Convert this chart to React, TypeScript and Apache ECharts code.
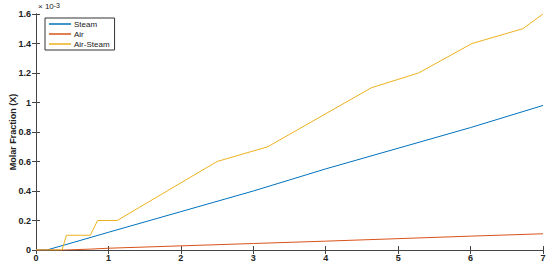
import React, { useEffect, useRef } from "react";
import * as echarts from "echarts";

// values in units of 10^-3
const steamX = [0, 0.15, 0.4, 1, 2, 3, 4, 5, 6, 7];
const steamY = [0, 0, 0.035, 0.12, 0.26, 0.4, 0.55, 0.69, 0.83, 0.98];
const airX = [0, 0.4, 0.75, 1, 2, 3, 4, 5, 6, 7];
const airY = [0, 0, 0.006, 0.012, 0.028, 0.044, 0.06, 0.077, 0.094, 0.11];
const asX = [0, 0.36, 0.42, 0.75, 0.85, 1.12, 2.5, 3.2, 4.63, 5.28, 6.02, 6.72, 7];
const asY = [0, 0, 0.1, 0.1, 0.2, 0.2, 0.6, 0.7, 1.1, 1.2, 1.4, 1.5, 1.6];
const seriesNames = ["Steam", "Air", "Air-Steam"];
const colors = ["#0072BD", "#D95319", "#EDB120"];
const yTitle = "Molar Fraction (X)";

const pair = (xs: number[], ys: number[]) => xs.map((x, i) => [x, ys[i]]);

export default function App() {
  const ref = useRef<HTMLDivElement>(null);
  useEffect(() => {
    const chart = echarts.init(ref.current!, undefined, { renderer: "svg" });
    const font = "Liberation Sans, Arial, sans-serif";
    const axisLine = { show: true, lineStyle: { color: "#444", width: 1 } };
    const tick = { show: true, inside: true, length: 4, lineStyle: { color: "#444" } };
    const lbl = { fontSize: 9, fontWeight: "bold" as const, color: "#222", fontFamily: font };
    chart.setOption({
      animation: false,
      backgroundColor: "#fff",
      grid: { left: 36, right: 7, top: 14, bottom: 15, containLabel: false, outerBoundsMode: "none" },
      legend: {
        data: seriesNames,
        orient: "vertical",
        left: 45,
        top: 18,
        itemWidth: 22,
        itemHeight: 1.5,
        itemGap: 2,
        padding: [2, 5, 2, 4],
        borderColor: "#333",
        borderWidth: 1,
        backgroundColor: "#fff",
        icon: "rect",
        textStyle: { fontSize: 8, color: "#222", fontFamily: font, padding: [0, 0, 0, -2] },
      },
      xAxis: [
        {
          type: "value", min: 0, max: 7, interval: 1,
          axisLine, axisTick: tick, splitLine: { show: false },
          axisLabel: { ...lbl, margin: 3 },
        },
        {
          type: "value", position: "top", min: 0, max: 7, interval: 1,
          axisLine, axisTick: tick, splitLine: { show: false },
          axisLabel: { show: false },
        },
      ],
      yAxis: [
        {
          type: "value", min: 0, max: 1.6, interval: 0.2,
          axisLine, axisTick: tick, splitLine: { show: false },
          axisLabel: {
            ...lbl, margin: 5,
            formatter: (v: number) => String(Math.round(v * 10) / 10),
          },
        },
        {
          type: "value", position: "right", min: 0, max: 1.6, interval: 0.2,
          axisLine, axisTick: tick, splitLine: { show: false },
          axisLabel: { show: false },
        },
      ],
      graphic: [
        {
          type: "text",
          left: 38,
          top: 2,
          style: {
            text: "× 10{s|-3}",
            rich: { s: { fontSize: 7, verticalAlign: "top", fontFamily: font, fill: "#222" } },
            fontSize: 8,
            fontFamily: font,
            fill: "#222",
          },
        },
        {
          type: "text",
          x: 13,
          y: 132,
          rotation: Math.PI / 2,
          style: {
            text: yTitle,
            fontSize: 9,
            fontWeight: "bold",
            fontFamily: font,
            fill: "#222",
            align: "center",
            verticalAlign: "middle",
          },
        },
      ],
      series: [
        { name: "Steam", type: "line", data: pair(steamX, steamY), showSymbol: false, lineStyle: { width: 1, color: colors[0] }, itemStyle: { color: colors[0] } },
        { name: "Air", type: "line", data: pair(airX, airY), showSymbol: false, lineStyle: { width: 1, color: colors[1] }, itemStyle: { color: colors[1] } },
        { name: "Air-Steam", type: "line", data: pair(asX, asY), showSymbol: false, lineStyle: { width: 1, color: colors[2] }, itemStyle: { color: colors[2] } },
      ],
    });
    return () => chart.dispose();
  }, []);
  return <div ref={ref} style={{ width: 550, height: 265, position: "absolute", left: 0, top: 0 }} />;
}
